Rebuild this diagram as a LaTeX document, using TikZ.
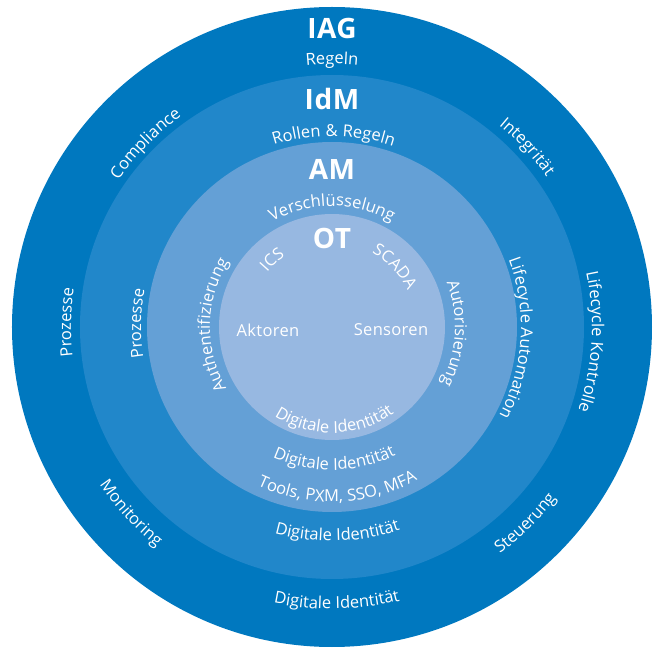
\documentclass[tikz,border=0pt]{standalone}
\usepackage{fontspec}
\setmainfont{Open Sans}[LetterSpace=2]
\usetikzlibrary{decorations.text}
\definecolor{iagBlue}{HTML}{0078BF}
\definecolor{idmBlue}{HTML}{2187CA}
\definecolor{amBlue}{HTML}{64A0D6}
\definecolor{otBlue}{HTML}{97B8E1}
\newcommand{\lbl}{\fontsize{16.5}{19}\selectfont}

\begin{document}
\begin{tikzpicture}[x=1pt, y=1pt,
    title/.style={text=white, font=\bfseries\fontsize{28}{32}\selectfont},
    plain/.style={text=white, font=\lbl},
    curved/.style={decorate, decoration={text along path, text align=center, text color=white, text={|\lbl|#1}}}]
    \useasboundingbox (-332,-321) rectangle (322,327);
    \coordinate (C) at (0,0);

    % rings
    \fill[iagBlue] (C) circle[radius=320];
    \fill[idmBlue] (C) circle[radius=252];
    \fill[amBlue] (C) circle[radius=185];
    \fill[otBlue] (C) circle[radius=113];

    % titles
    \node[title] (iag) at (0,298) {IAG};
    \node[title] (idm) at (0,228) {IdM};
    \node[title] (am) at (0,158) {AM};
    \node[title] (ot) at (0,89) {OT};

    % IAG ring
    \path[curved=Regeln] (120:263) arc[start angle=120, end angle=60, radius=263];
    \path[curved=Compliance] (165.5:259) arc[start angle=165.5, end angle=105.5, radius=259];
    \path[curved=Integrität] (72.7:262) arc[start angle=72.7, end angle=12.7, radius=262];
    \path[curved=Lifecycle Kontrolle] (31.7:260) arc[start angle=31.7, end angle=-38.3, radius=260];
    \path[curved=Prozesse] (204:261) arc[start angle=204, end angle=154, radius=261];
    \path[curved=Monitoring] (197.8:281) arc[start angle=197.8, end angle=247.8, radius=281];
    \path[curved=Steuerung] (289.6:282) arc[start angle=289.6, end angle=339.6, radius=282];
    \path[curved=Digitale Identität] (241:282) arc[start angle=241, end angle=301, radius=282];

    % IdM ring
    \path[curved=Rollen {\&} Regeln] (124.5:191) arc[start angle=124.5, end angle=54.5, radius=191];
    \path[curved=Prozesse] (209:191) arc[start angle=209, end angle=149, radius=191];
    \path[curved=Lifecycle Automation] (41.5:189) arc[start angle=41.5, end angle=-48.5, radius=189];
    \path[curved=Digitale Identität] (236.5:214) arc[start angle=236.5, end angle=306.5, radius=214];

    % AM ring
    \path[curved=Verschlüsselung] (150:121) arc[start angle=150, end angle=30, radius=121];
    \path[curved=Authentifizierung] (249:122) arc[start angle=249, end angle=109, radius=122];
    \path[curved=Autorisierung] (57:123) arc[start angle=57, end angle=-63, radius=123];
    \path[curved=Digitale Identität] (226:143) arc[start angle=226, end angle=316, radius=143];
    \path[curved={Tools, PXM, SSO, MFA}] (227:175) arc[start angle=227, end angle=317, radius=175];

    % OT core
    \path[curved=ICS] (161.6:85) arc[start angle=161.6, end angle=101.6, radius=85];
    \path[curved=SCADA] (83.8:84) arc[start angle=83.8, end angle=3.8, radius=84];
    \node[plain] (aktoren) at (-64,-3) {Aktoren};
    \node[plain] (sensoren) at (59,-3) {Sensoren};
    \path[curved=Digitale Identität] (211.5:106) arc[start angle=211.5, end angle=331.5, radius=106];
\end{tikzpicture}
\end{document}
